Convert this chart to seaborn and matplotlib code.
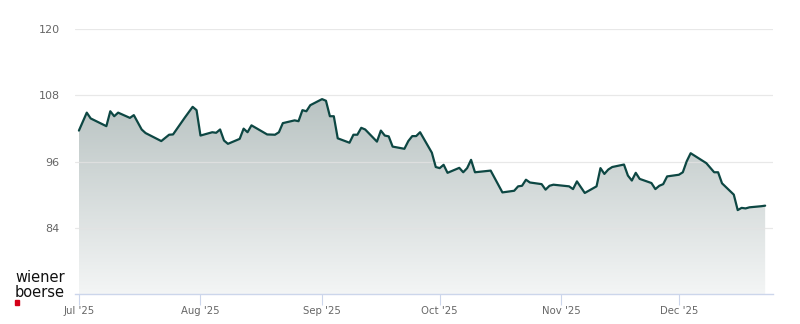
import numpy as np
import pandas as pd
import matplotlib
matplotlib.use("Agg")
import matplotlib.pyplot as plt
import matplotlib.dates as mdates
import seaborn as sns

dates = [
    "2025-07-01", "2025-07-03", "2025-07-04", "2025-07-08", "2025-07-09", "2025-07-10",
    "2025-07-11", "2025-07-14", "2025-07-15", "2025-07-17", "2025-07-18", "2025-07-22",
    "2025-07-24", "2025-07-25", "2025-07-28", "2025-07-30", "2025-07-31", "2025-08-01",
    "2025-08-04", "2025-08-05", "2025-08-06", "2025-08-07", "2025-08-08", "2025-08-11",
    "2025-08-12", "2025-08-13", "2025-08-14", "2025-08-18", "2025-08-20", "2025-08-21",
    "2025-08-22", "2025-08-25", "2025-08-26", "2025-08-27", "2025-08-28", "2025-08-29",
    "2025-09-01", "2025-09-02", "2025-09-03", "2025-09-04", "2025-09-05", "2025-09-08",
    "2025-09-09", "2025-09-10", "2025-09-11", "2025-09-12", "2025-09-15", "2025-09-16",
    "2025-09-17", "2025-09-18", "2025-09-19", "2025-09-22", "2025-09-23", "2025-09-24",
    "2025-09-25", "2025-09-26", "2025-09-29", "2025-09-30", "2025-10-01", "2025-10-02",
    "2025-10-03", "2025-10-06", "2025-10-07", "2025-10-08", "2025-10-09", "2025-10-10",
    "2025-10-14", "2025-10-17", "2025-10-20", "2025-10-21", "2025-10-22", "2025-10-23",
    "2025-10-24", "2025-10-27", "2025-10-28", "2025-10-29", "2025-10-30", "2025-11-03",
    "2025-11-04", "2025-11-05", "2025-11-07", "2025-11-10", "2025-11-11", "2025-11-12",
    "2025-11-13", "2025-11-14", "2025-11-17", "2025-11-18", "2025-11-19", "2025-11-20",
    "2025-11-21", "2025-11-24", "2025-11-25", "2025-11-26", "2025-11-27", "2025-11-28",
    "2025-12-01", "2025-12-02", "2025-12-03", "2025-12-04", "2025-12-08", "2025-12-10",
    "2025-12-11", "2025-12-12", "2025-12-15", "2025-12-16", "2025-12-17", "2025-12-18",
    "2025-12-19", "2025-12-22", "2025-12-23",
]
prices = [
    101.6, 104.85, 103.8, 102.4, 105.1, 104.2,
    104.85, 103.9, 104.4, 101.8, 101.15, 99.7,
    100.85, 100.9, 103.95, 105.9, 105.3, 100.7,
    101.3, 101.2, 101.8, 99.8, 99.2, 100.1,
    101.95, 101.3, 102.55, 100.9, 100.85, 101.3,
    102.95, 103.45, 103.3, 105.3, 105.1, 106.2,
    107.3, 107.0, 104.2, 104.2, 100.2, 99.4,
    100.85, 100.85, 102.1, 101.8, 99.6, 101.6,
    100.7, 100.55, 98.7, 98.3, 99.7, 100.6,
    100.6, 101.3, 97.6, 95.0, 94.8, 95.4,
    93.95, 94.85, 94.05, 94.8, 96.3, 94.05,
    94.35, 90.4, 90.7, 91.5, 91.6, 92.7,
    92.2, 91.9, 90.9, 91.6, 91.8, 91.5,
    91.0, 92.4, 90.3, 91.5, 94.8, 93.75,
    94.55, 95.0, 95.45, 93.45, 92.55, 93.95,
    92.85, 92.1, 91.0, 91.6, 91.9, 93.3,
    93.6, 94.05, 96.05, 97.5, 95.7, 94.05,
    94.05, 92.05, 90.0, 87.2, 87.6, 87.5,
    87.7, 87.9, 88.0,
]
y_ticks = [84, 96, 108, 120]
x_tick_dates = ["2025-07-01", "2025-08-01", "2025-09-01", "2025-10-01", "2025-11-01", "2025-12-01"]
x_tick_labels = ["Jul '25", "Aug '25", "Sep '25", "Oct '25", "Nov '25", "Dec '25"]

df = pd.DataFrame({"date": pd.to_datetime(dates), "price": prices})

sns.set_theme(style="white")
plt.rcParams['font.family'] = ['DejaVu Sans']

fig = plt.figure(figsize=(8, 3.24), dpi=100)
ax = fig.add_axes([75 / 800, 1 - 294 / 324, 698 / 800, 265 / 324])

ymin, ymax = 72, 120
xnum = mdates.date2num(df["date"])

# gradient fill under the line
poly = ax.fill_between(xnum, df["price"], ymin, color="none", lw=0)
grad = np.linspace(0, 1, 256).reshape(-1, 1)
top = np.array([0.725, 0.765, 0.762])
bot = np.array([0.955, 0.962, 0.962])
img = top[None, None, :] * (1 - grad[..., None]) + bot[None, None, :] * grad[..., None]
im = ax.imshow(img, extent=[xnum.min(), xnum.max(), ymin, df["price"].max()], aspect="auto",
               origin="upper", zorder=1)
path = poly.get_paths()[0]
im.set_clip_path(path, transform=ax.transData)

sns.lineplot(data=df, x="date", y="price", ax=ax, color="#0d4743", lw=1.6, zorder=3)

ax.set_ylim(ymin, ymax)
ax.set_xlim(mdates.date2num(pd.Timestamp("2025-06-30")), mdates.date2num(pd.Timestamp("2025-12-25")))

ax.set_yticks(y_ticks)
ax.set_yticklabels([str(v) for v in y_ticks])
ax.yaxis.grid(True, color="#e3e3e3", lw=0.9, zorder=2)
ax.set_axisbelow(False)
for gl in ax.get_ygridlines():
    gl.set_zorder(2)
    gl.set_alpha(0.8)
ax.tick_params(axis="y", length=0, labelsize=8, labelcolor="#666666", pad=11)

ax.set_xticks(mdates.date2num(pd.to_datetime(x_tick_dates)))
ax.set_xticklabels(x_tick_labels)
ax.tick_params(axis="x", length=8, width=0.8, color="#ccd6eb", labelsize=7.3,
               labelcolor="#666666", pad=1, direction="out", bottom=True)

for s in ["top", "right", "left"]:
    ax.spines[s].set_visible(False)
ax.spines["bottom"].set_color("#ccd6eb")
ax.spines["bottom"].set_linewidth(1.0)
ax.set_xlabel("")
ax.set_ylabel("")

# logo
fig.text(15 / 800, 1 - 277 / 324, "wiener", fontsize=10.5, color="#111111", va="center", ha="left")
fig.text(15 / 800, 1 - 292.5 / 324, "boerse", fontsize=10.5, color="#111111", va="center", ha="left")
fig.patches.append(plt.Rectangle((15 / 800, 1 - 305 / 324), 4 / 800, 5 / 324,
                                 transform=fig.transFigure, color="#d40019", zorder=5))

fig.savefig("out.png", dpi=100)
